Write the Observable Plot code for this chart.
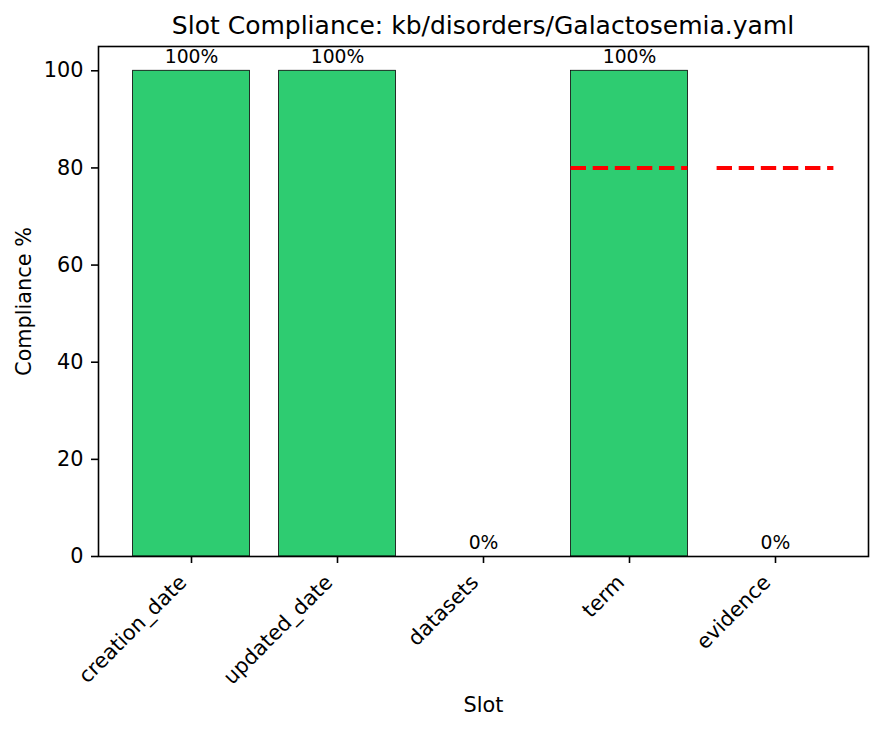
<!DOCTYPE html>
<html>
<head>
<meta charset="utf-8">
<script src="https://cdn.jsdelivr.net/npm/d3@7"></script>
<script src="https://cdn.jsdelivr.net/npm/@observablehq/plot@0.6"></script>
<style>
  html, body { margin: 0; padding: 0; background: #fff; }
  body { width: 884px; height: 731px; overflow: hidden; font-family: "DejaVu Sans", sans-serif; }
  #title { box-sizing: border-box; height: 45px; padding: 9px 16px 0 98px; text-align: center;
           font-size: 25px; line-height: 34px; color: #000; white-space: nowrap; }
</style>
</head>
<body>
<div id="title">Slot Compliance: kb/disorders/Galactosemia.yaml</div>
<div id="chart"></div>
<script>
const slots = ["creation_date", "updated_date", "datasets", "term", "evidence"];
const compliance = [100, 100, 0, 100, 0];
const thresholds = [null, null, null, 80, 80];
const yTicks = [0, 20, 40, 60, 80, 100];
const xLabel = "Slot";
const yLabel = "Compliance %";

const data = slots.map((s, i) => ({slot: s, value: compliance[i], threshold: thresholds[i]}));
const thrData = data.filter(d => d.threshold != null);

const chart = Plot.plot({
  width: 884,
  height: 686,
  marginLeft: 98,
  marginRight: 16,
  marginTop: 1,
  marginBottom: 175,
  style: {fontFamily: "DejaVu Sans, sans-serif", fontSize: "20.8px", color: "#000", background: "#fff", overflow: "visible"},
  x: {domain: slots, paddingInner: 0.2, paddingOuter: 0.237, round: false, label: null},
  y: {domain: [0, 105], label: null},
  marks: [
    Plot.barY(data, {x: "slot", y: "value", fill: "#2ecc71", stroke: "#000", strokeWidth: 0.8}),
    Plot.tickY(thrData, {x: "slot", y: "threshold", stroke: "#ff0000", strokeWidth: 4, strokeDasharray: "15.4,6.7", strokeLinecap: "butt"}),
    Plot.text(data, {x: "slot", y: "value", text: d => d.value + "%", dy: -14, fontSize: 18.75, lineAnchor: "middle", fill: "#000"}),
    Plot.frame({stroke: "#000", strokeWidth: 1.6}),
    Plot.axisY({ticks: yTicks, tickSize: 7, tickPadding: 8, strokeWidth: 1.6, label: null, fontSize: 20.8}),
    Plot.axisX({tickSize: 7, strokeWidth: 1.6, tickFormat: () => "", label: null}),
    Plot.text(slots, {x: d => d, frameAnchor: "bottom", dx: -8.5, dy: 22.5, rotate: -45, textAnchor: "end", lineAnchor: "middle", fontSize: 20.8, fill: "#000"}),
    Plot.text([xLabel], {frameAnchor: "bottom", dy: 155, textAnchor: "middle", fontSize: 20.8, fill: "#000"}),
    Plot.text([yLabel], {frameAnchor: "left", dx: -74, rotate: -90, textAnchor: "middle", fontSize: 20.8, fill: "#000"})
  ]
});
document.getElementById("chart").appendChild(chart);
</script>
</body>
</html>
